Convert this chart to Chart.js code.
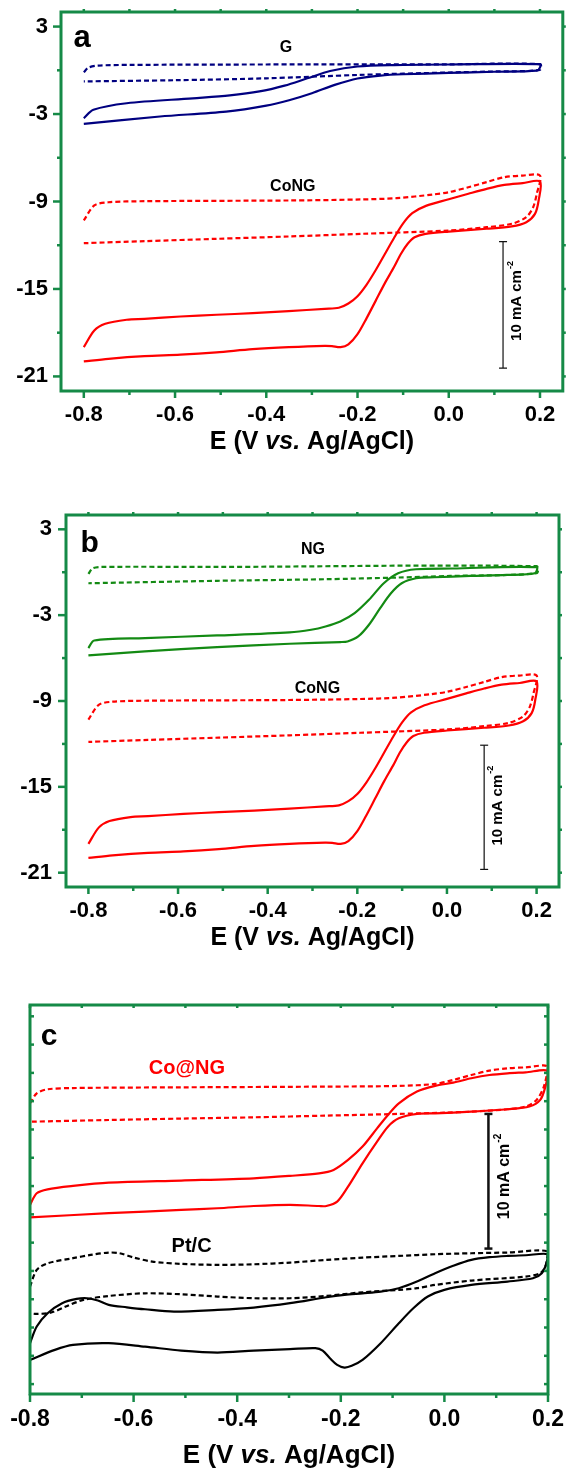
<!DOCTYPE html>
<html>
<head>
<meta charset="utf-8">
<script src="https://cdn.jsdelivr.net/npm/chart.js@4.4.1/dist/chart.umd.min.js"></script>
<style>
  body { margin: 0; background: #fff; }
  #wrap { position: relative; width: 568px; height: 1472px; background: #fff; }
  canvas { position: absolute; left: 0; }
</style>
</head>
<body>
<div id="wrap">
  <canvas id="chartA" width="568" height="460" style="top:0px"></canvas>
  <canvas id="chartB" width="568" height="470" style="top:490px"></canvas>
  <canvas id="chartC" width="568" height="512" style="top:960px"></canvas>
</div>
<script>
// ---- tick values ----
const xMajor = [-0.8, -0.6, -0.4, -0.2, 0.0, 0.2];
const xMinor = [-0.7, -0.5, -0.3, -0.1, 0.1];
const yMajor = [3, -3, -9, -15, -21];
const yMinor = [0, -6, -12, -18];
const cTicks = [0, -2, -4, -6, -8, -10, -12, -14, -16, -18, -20, -22, -24, -26];

// ---- panel a: G (blue) ----
const gSolidE = [-0.8, -0.779, -0.706, -0.561, -0.48, -0.415, -0.36, -0.31, -0.26, -0.2, -0.12, 0.0, 0.2, 0.2, 0.193, 0.1, 0.0, -0.1, -0.15, -0.2, -0.25, -0.3, -0.35, -0.4, -0.488, -0.633, -0.8];
const gSolidJ = [-3.29, -2.71, -2.26, -1.92, -1.72, -1.45, -1.05, -0.55, -0.05, 0.26, 0.36, 0.40, 0.42, 0.2, -0.02, -0.1, -0.18, -0.27, -0.36, -0.56, -1.0, -1.57, -2.05, -2.42, -2.83, -3.17, -3.67];
const gDashE = [-0.8, -0.79, -0.77, -0.7, -0.4, 0.0, 0.2, 0.2, 0.1, 0.0, -0.2, -0.4, -0.6, -0.8];
const gDashJ = [-0.13, 0.18, 0.32, 0.37, 0.40, 0.41, 0.42, 0.03, -0.08, -0.15, -0.32, -0.55, -0.68, -0.76];

// ---- panels a, b: CoNG (red) ----
const coSolidE = [-0.8, -0.777, -0.753, -0.706, -0.667, -0.588, -0.509, -0.430, -0.351, -0.272, -0.241, -0.22, -0.20, -0.18, -0.16, -0.14, -0.12, -0.10, -0.08, -0.05, 0.0, 0.043, 0.083, 0.122, 0.162, 0.2, 0.197, 0.189, 0.170, 0.138, 0.083, 0.0, -0.051, -0.075, -0.09, -0.105, -0.12, -0.14, -0.16, -0.18, -0.20, -0.22, -0.237, -0.256, -0.272, -0.351, -0.430, -0.509, -0.588, -0.667, -0.746, -0.8];
const coSolidJ = [-18.99, -17.85, -17.39, -17.11, -17.05, -16.89, -16.77, -16.66, -16.52, -16.36, -16.29, -16.0, -15.5, -14.7, -13.7, -12.6, -11.5, -10.5, -9.8, -9.3, -8.85, -8.47, -8.13, -7.86, -7.74, -7.63, -8.93, -9.85, -10.42, -10.71, -10.87, -11.06, -11.22, -11.45, -11.9, -12.6, -13.5, -14.6, -15.8, -17.0, -18.1, -18.8, -18.99, -18.92, -18.90, -18.99, -19.13, -19.35, -19.51, -19.61, -19.79, -19.97];
const coDashE = [-0.8, -0.777, -0.746, -0.667, -0.351, -0.193, -0.114, -0.035, 0.0, 0.043, 0.083, 0.122, 0.162, 0.2, 0.193, 0.185, 0.170, 0.138, 0.083, 0.0, -0.193, -0.351, -0.509, -0.667, -0.8];
const coDashJ = [-10.30, -9.27, -9.05, -8.98, -8.93, -8.86, -8.77, -8.52, -8.36, -8.02, -7.67, -7.33, -7.22, -7.22, -8.47, -9.39, -10.07, -10.53, -10.76, -10.99, -11.22, -11.40, -11.56, -11.72, -11.86];

// ---- panel b: NG (green) ----
const ngSolidE = [-0.8, -0.787, -0.674, -0.513, -0.351, -0.303, -0.271, -0.238, -0.206, -0.174, -0.141, -0.109, -0.069, 0.012, 0.2, 0.196, 0.133, 0.052, -0.028, -0.069, -0.101, -0.125, -0.149, -0.174, -0.198, -0.222, -0.238, -0.351, -0.513, -0.674, -0.8];
const ngSolidJ = [-5.30, -4.77, -4.60, -4.42, -4.21, -4.02, -3.79, -3.44, -2.86, -1.93, -0.77, -0.07, 0.21, 0.26, 0.35, -0.07, -0.19, -0.26, -0.35, -0.42, -0.77, -1.47, -2.51, -3.67, -4.49, -4.84, -4.88, -5.0, -5.23, -5.53, -5.81];
const ngDashE = [-0.8, -0.791, -0.771, -0.513, 0.2, 0.2, 0.008, -0.109, -0.271, -0.513, -0.8];
const ngDashJ = [-0.12, 0.26, 0.37, 0.37, 0.42, -0.07, -0.26, -0.37, -0.49, -0.60, -0.77];

// ---- panel c: Co@NG (red) and Pt/C (black) ----
const conSolidE = [-0.8, -0.787, -0.766, -0.717, -0.648, -0.508, -0.368, -0.298, -0.242, -0.214, -0.186, -0.158, -0.130, -0.109, -0.088, -0.053, -0.018, 0.017, 0.052, 0.087, 0.122, 0.157, 0.2, 0.195, 0.185, 0.164, 0.122, 0.052, -0.018, -0.053, -0.088, -0.109, -0.130, -0.158, -0.186, -0.207, -0.228, -0.242, -0.298, -0.368, -0.438, -0.508, -0.648, -0.8];
const conSolidJ = [-13.33, -12.51, -12.23, -11.99, -11.76, -11.61, -11.45, -11.28, -11.10, -10.86, -10.15, -9.21, -7.92, -6.97, -6.15, -5.32, -4.92, -4.69, -4.38, -4.15, -4.03, -3.96, -3.86, -4.97, -5.91, -6.38, -6.57, -6.74, -6.86, -6.90, -7.21, -7.80, -8.86, -10.39, -12.04, -13.10, -13.41, -13.41, -13.33, -13.41, -13.57, -13.69, -13.92, -14.21];
const conDashE = [-0.8, -0.787, -0.766, -0.717, -0.508, -0.228, -0.088, -0.018, 0.017, 0.052, 0.087, 0.122, 0.157, 0.2, 0.192, 0.178, 0.157, 0.122, 0.052, 0.0, -0.088, -0.228, -0.368, -0.508, -0.648, -0.8];
const conDashJ = [-6.15, -5.44, -5.16, -5.07, -5.02, -4.97, -4.92, -4.78, -4.50, -4.15, -3.84, -3.68, -3.61, -3.56, -4.97, -5.91, -6.38, -6.57, -6.74, -6.81, -6.90, -7.02, -7.14, -7.23, -7.33, -7.45];
const ptSolidE = [-0.8, -0.787, -0.766, -0.738, -0.710, -0.690, -0.669, -0.648, -0.613, -0.578, -0.522, -0.438, -0.368, -0.298, -0.228, -0.193, -0.158, -0.123, -0.088, -0.053, -0.018, 0.017, 0.052, 0.087, 0.122, 0.157, 0.2, 0.197, 0.188, 0.171, 0.122, 0.052, 0.0, -0.032, -0.060, -0.088, -0.123, -0.158, -0.179, -0.193, -0.207, -0.221, -0.235, -0.249, -0.298, -0.368, -0.438, -0.508, -0.578, -0.648, -0.717, -0.752, -0.8];
const ptSolidJ = [-23.11, -21.93, -20.99, -20.28, -19.98, -19.93, -20.09, -20.40, -20.57, -20.71, -20.87, -20.75, -20.59, -20.28, -19.86, -19.69, -19.58, -19.46, -19.22, -18.75, -18.16, -17.64, -17.22, -17.03, -16.94, -16.89, -16.82, -17.46, -18.16, -18.52, -18.75, -18.99, -19.34, -19.81, -20.64, -21.70, -23.11, -24.29, -24.71, -24.83, -24.64, -24.17, -23.63, -23.46, -23.53, -23.63, -23.77, -23.63, -23.35, -23.11, -23.23, -23.58, -24.29];
const ptDashE = [-0.8, -0.787, -0.766, -0.717, -0.683, -0.648, -0.627, -0.599, -0.564, -0.508, -0.438, -0.368, -0.298, -0.228, -0.158, -0.088, -0.018, 0.052, 0.122, 0.2, 0.195, 0.185, 0.157, 0.052, -0.018, -0.053, -0.088, -0.158, -0.228, -0.298, -0.368, -0.438, -0.508, -0.578, -0.648, -0.697, -0.731, -0.759, -0.787, -0.8];
const ptDashJ = [-19.11, -17.93, -17.46, -17.10, -16.87, -16.70, -16.75, -17.06, -17.34, -17.50, -17.57, -17.53, -17.41, -17.22, -17.06, -16.94, -16.82, -16.75, -16.70, -16.63, -17.69, -18.16, -18.40, -18.68, -18.99, -19.22, -19.34, -19.51, -19.77, -19.93, -19.93, -19.81, -19.65, -19.58, -19.77, -20.05, -20.52, -20.94, -21.04, -20.99];

// ---- 10 mA cm-2 scale bars ----
const barAE = [0.119, 0.119], barAJ = [-11.75, -20.43];
const barBE = [0.083, 0.083], barBJ = [-12.09, -20.77];
const barCE = [0.085, 0.085], barCJ = [-6.9, -16.42];

const FONT = '"Liberation Sans", Arial, sans-serif';
const GREEN = '#158a47';

function pts(E, J) { return E.map((e, i) => ({ x: e, y: J[i] })); }

function curve(E, J, color, dashed, w) {
  return {
    data: pts(E, J), borderColor: color, borderWidth: w,
    borderDash: dashed ? [5, 3] : [], showLine: true,
    pointRadius: 0, tension: 0.3, fill: false
  };
}

function bar(E, J, w, cap) {
  return {
    data: pts(E, J), borderColor: '#111', borderWidth: w, showLine: true, tension: 0,
    pointStyle: 'line', pointRadius: cap, pointBorderWidth: w, pointBorderColor: '#111'
  };
}

// frame box + tick marks on all four sides
const framePlugin = {
  id: 'frame',
  afterDatasetsDraw(chart, args, o) {
    const { ctx, chartArea: a, scales: { x, y } } = chart;
    ctx.save();
    ctx.strokeStyle = o.color;
    ctx.lineWidth = o.tickWidth;
    o.marks.forEach(m => {
      const s = m.inside ? -1 : 1;
      m.values.forEach(v => {
        ctx.beginPath();
        if (m.side === 'bottom' || m.side === 'top') {
          const px = x.getPixelForValue(v);
          const y0 = m.side === 'bottom' ? a.bottom : a.top;
          ctx.moveTo(px, y0);
          ctx.lineTo(px, y0 + (m.side === 'bottom' ? 1 : -1) * s * m.len);
        } else {
          const py = y.getPixelForValue(v);
          const x0 = m.side === 'left' ? a.left : a.right;
          ctx.moveTo(x0, py);
          ctx.lineTo(x0 + (m.side === 'left' ? -1 : 1) * s * m.len, py);
        }
        ctx.stroke();
      });
    });
    ctx.lineWidth = o.width;
    ctx.strokeRect(a.left, a.top, a.right - a.left, a.bottom - a.top);
    ctx.restore();
  }
};

// panel letters, curve names, scale bar caption, axis title
const notesPlugin = {
  id: 'notes',
  afterDraw(chart, args, o) {
    const { ctx, chartArea: a, scales: { x, y } } = chart;
    ctx.save();
    ctx.textAlign = 'center';
    o.labels.forEach(l => {
      ctx.font = 'bold ' + l.size + 'px ' + FONT;
      ctx.fillStyle = l.color || '#000';
      ctx.textBaseline = l.base || 'middle';
      ctx.fillText(l.text, x.getPixelForValue(l.x), y.getPixelForValue(l.y));
    });

    // rotated "10 mA cm-2"
    const u = o.unit;
    ctx.save();
    ctx.translate(x.getPixelForValue(u.x), y.getPixelForValue(u.y));
    ctx.rotate(-Math.PI / 2);
    const f1 = 'bold ' + u.size + 'px ' + FONT;
    const f2 = 'bold ' + Math.round(u.size * 0.62) + 'px ' + FONT;
    ctx.font = f1; const w1 = ctx.measureText('10 mA cm').width;
    ctx.font = f2; const w2 = ctx.measureText('-2').width;
    const x0 = -(w1 + w2) / 2;
    ctx.fillStyle = '#000';
    ctx.textAlign = 'left';
    ctx.textBaseline = 'middle';
    ctx.font = f1; ctx.fillText('10 mA cm', x0, 0);
    ctx.font = f2; ctx.fillText('-2', x0 + w1 + 1, -u.size * 0.45);
    ctx.restore();

    // x axis title with italic "vs."
    const segs = [['E (V ', 'bold'], ['vs.', 'italic bold'], [' Ag/AgCl)', 'bold']];
    let total = 0;
    segs.forEach(s => { ctx.font = s[1] + ' ' + o.titleSize + 'px ' + FONT; total += ctx.measureText(s[0]).width; });
    let tx = (a.left + a.right) / 2 - total / 2;
    const ty = a.bottom + o.titleOff;
    ctx.textAlign = 'left';
    ctx.textBaseline = 'alphabetic';
    ctx.fillStyle = '#000';
    segs.forEach(s => {
      ctx.font = s[1] + ' ' + o.titleSize + 'px ' + FONT;
      ctx.fillText(s[0], tx, ty);
      tx += ctx.measureText(s[0]).width;
    });
    ctx.restore();
  }
};

function makePanel(id, o) {
  return new Chart(document.getElementById(id), {
    type: 'scatter',
    data: { datasets: o.datasets },
    options: {
      responsive: false,
      animation: false,
      events: [],
      layout: { padding: o.pad },
      scales: {
        x: {
          type: 'linear', min: o.xMin, max: o.xMax,
          afterBuildTicks: s => { s.ticks = xMajor.map(v => ({ value: v })); },
          afterFit: s => { s.height = o.xH; s.paddingLeft = 0; s.paddingRight = 0; },
          grid: { display: false, drawTicks: false },
          border: { display: false },
          ticks: {
            autoSkip: false, maxRotation: 0, padding: o.xPad, color: '#000',
            font: { family: FONT, size: o.tickSize, weight: 'bold' },
            callback: v => v.toFixed(1)
          }
        },
        y: {
          type: 'linear', min: o.yMin, max: o.yMax,
          afterBuildTicks: s => { s.ticks = o.yLabels.map(v => ({ value: v })); },
          afterFit: s => { s.width = o.yW; s.paddingTop = 0; s.paddingBottom = 0; },
          grid: { display: false, drawTicks: false },
          border: { display: false },
          ticks: {
            display: o.yLabels.length > 0, autoSkip: false, padding: o.yPad, color: '#000',
            font: { family: FONT, size: o.tickSize, weight: 'bold' },
            callback: v => String(v)
          }
        }
      },
      plugins: {
        legend: { display: false },
        tooltip: { enabled: false },
        frame: o.frame,
        notes: o.notes
      }
    },
    plugins: [framePlugin, notesPlugin]
  });
}

const abMarks = [
  { side: 'bottom', values: xMajor, len: 7 },
  { side: 'bottom', values: xMinor, len: 4 },
  { side: 'left', values: yMajor, len: 8 },
  { side: 'left', values: yMinor, len: 4 },
  { side: 'right', values: yMajor.concat(yMinor), len: 3 },
  { side: 'top', values: xMajor.concat(xMinor), len: 3 }
];

makePanel('chartA', {
  pad: { left: 0, right: 3, top: 12, bottom: 0 },
  yW: 61, xH: 69, xMin: -0.85, xMax: 0.25, yMin: -22, yMax: 4,
  xPad: 11, yPad: 13, tickSize: 22, yLabels: yMajor,
  datasets: [
    curve(gSolidE, gSolidJ, '#000080', false, 2.2),
    curve(gDashE, gDashJ, '#000080', true, 2.2),
    curve(coSolidE, coSolidJ, '#ff0000', false, 2.2),
    curve(coDashE, coDashJ, '#ff0000', true, 2.2),
    bar(barAE, barAJ, 1.2, 4)
  ],
  frame: { color: GREEN, width: 3, tickWidth: 2.5, marks: abMarks },
  notes: {
    labels: [
      { text: 'a', x: -0.8035, y: 1.63, size: 31, base: 'alphabetic' },
      { text: 'G', x: -0.357, y: 1.58, size: 16 },
      { text: 'CoNG', x: -0.342, y: -7.97, size: 16 }
    ],
    unit: { x: 0.1496, y: -15.86, size: 15 },
    titleSize: 25, titleOff: 58.3
  }
});

makePanel('chartB', {
  pad: { left: 0, right: 9, top: 25, bottom: 0 },
  yW: 66, xH: 73, xMin: -0.85, xMax: 0.25, yMin: -22, yMax: 4,
  xPad: 10.5, yPad: 14, tickSize: 22, yLabels: yMajor,
  datasets: [
    curve(ngSolidE, ngSolidJ, '#138a13', false, 2.2),
    curve(ngDashE, ngDashJ, '#138a13', true, 2.2),
    curve(coSolidE, coSolidJ, '#ff0000', false, 2.2),
    curve(coDashE, coDashJ, '#ff0000', true, 2.2),
    bar(barBE, barBJ, 1.2, 4)
  ],
  frame: { color: GREEN, width: 3, tickWidth: 2.5, marks: abMarks },
  notes: {
    labels: [
      { text: 'b', x: -0.797, y: 1.44, size: 30, base: 'alphabetic' },
      { text: 'NG', x: -0.299, y: 1.60, size: 16 },
      { text: 'CoNG', x: -0.289, y: -8.12, size: 16 }
    ],
    unit: { x: 0.113, y: -16.35, size: 15 },
    titleSize: 25, titleOff: 58
  }
});

makePanel('chartC', {
  pad: { left: 0, right: 20, top: 45, bottom: 0 },
  yW: 30, xH: 78, xMin: -0.8, xMax: 0.2, yMin: -26.7, yMax: 0.8,
  xPad: 12.2, yPad: 0, tickSize: 23, yLabels: [],
  datasets: [
    curve(conSolidE, conSolidJ, '#ff0000', false, 2.2),
    curve(conDashE, conDashJ, '#ff0000', true, 2.2),
    curve(ptSolidE, ptSolidJ, '#000000', false, 2.2),
    curve(ptDashE, ptDashJ, '#000000', true, 2.2),
    bar(barCE, barCJ, 2.5, 4)
  ],
  frame: {
    color: GREEN, width: 3, tickWidth: 2.5,
    marks: [
      { side: 'bottom', values: xMajor, len: 8 },
      { side: 'bottom', values: xMinor, len: 4 },
      { side: 'left', values: cTicks, len: 4, inside: true },
      { side: 'right', values: cTicks, len: 4, inside: true },
      { side: 'top', values: xMajor.concat(xMinor), len: 3, inside: true }
    ]
  },
  notes: {
    labels: [
      { text: 'c', x: -0.763, y: -2.03, size: 30, base: 'alphabetic' },
      { text: 'Co@NG', x: -0.497, y: -3.72, size: 20, color: '#ff0000' },
      { text: 'Pt/C', x: -0.488, y: -16.28, size: 20 }
    ],
    unit: { x: 0.117, y: -11.36, size: 16 },
    titleSize: 26, titleOff: 69.3
  }
});
</script>
</body>
</html>
